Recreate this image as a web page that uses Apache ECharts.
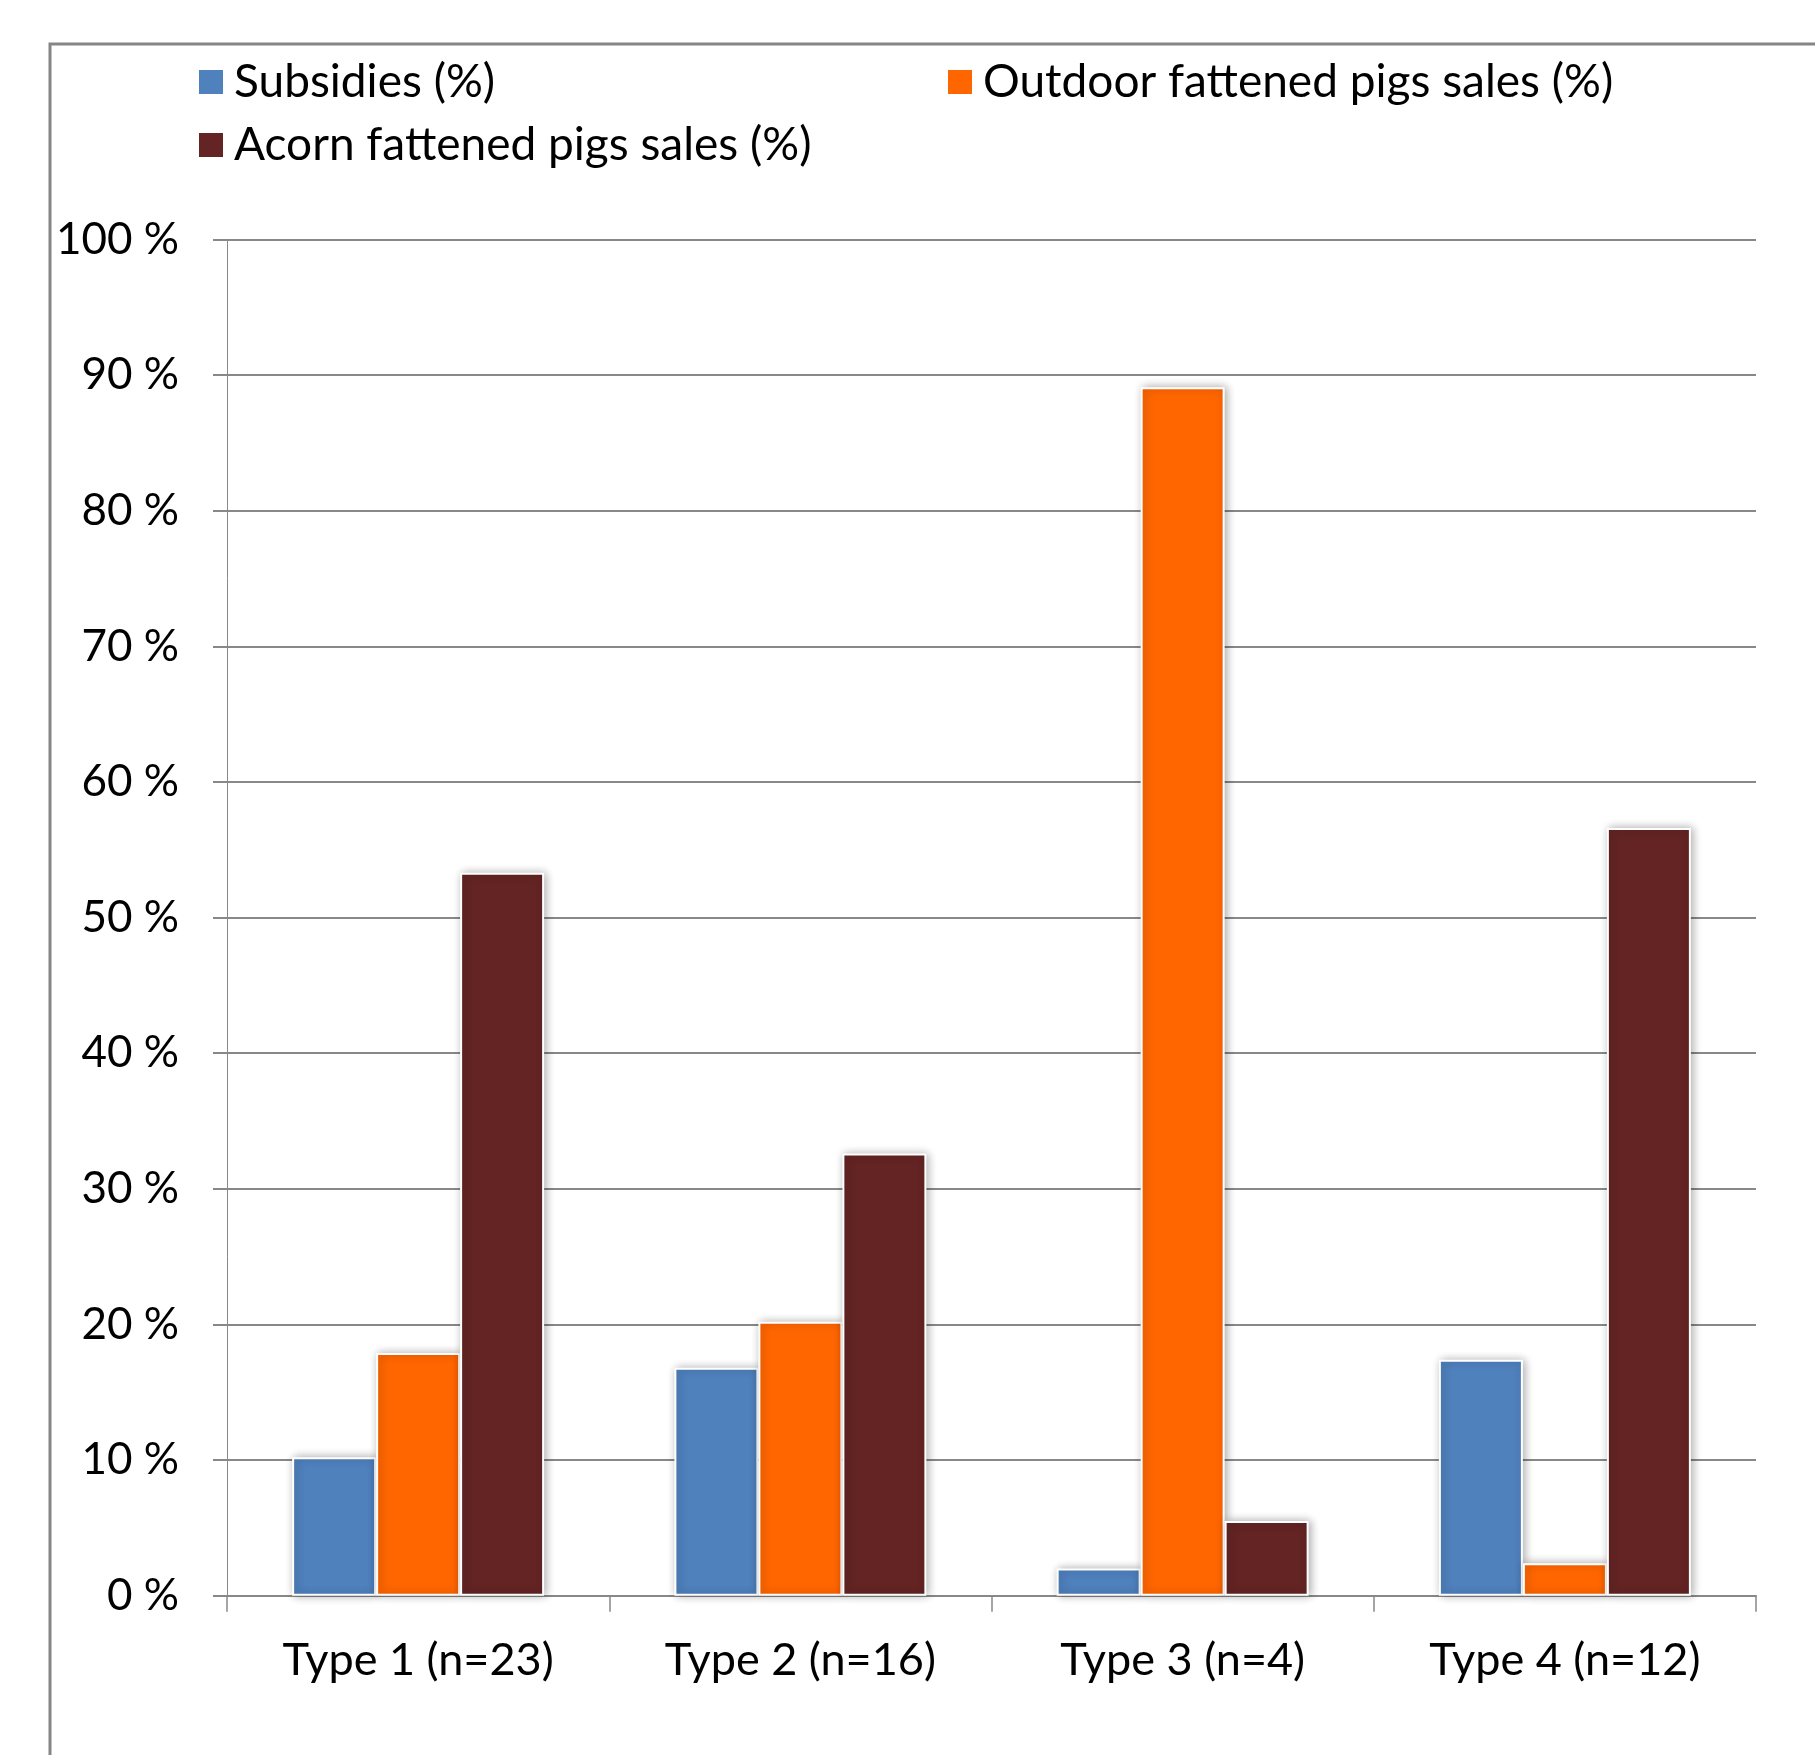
<!DOCTYPE html>
<html>
<head>
<meta charset="utf-8">
<script src="https://cdn.jsdelivr.net/npm/echarts@6/dist/echarts.min.js"></script>
<style>
  html, body { margin: 0; padding: 0; background: #fff; }
  #chart { width: 1815px; height: 1755px; }
</style>
</head>
<body>
<div id="chart"></div>
<script>
// Farm types and the share of income from each source
const categories = ['Type 1 (n=23)', 'Type 2 (n=16)', 'Type 3 (n=4)', 'Type 4 (n=12)'];
const subsidies = [10.2, 16.8, 2.0, 17.4];
const outdoorSales = [17.9, 20.2, 89.1, 2.4];
const acornSales = [53.3, 32.6, 5.5, 56.6];
const seriesNames = ['Subsidies (%)', 'Outdoor fattened pigs sales (%)', 'Acorn fattened pigs sales (%)'];
const seriesColors = ['#4F81BD', '#FF6600', '#632423'];

const FONT = 'Lato';
const GRID_GRAY = '#888888';

const chart = echarts.init(document.getElementById('chart'), null, { renderer: 'canvas' });

function barSeries(name, data, color) {
  return {
    name: name,
    type: 'bar',
    data: data,
    barWidth: 84,
    barGap: '0%',
    itemStyle: {
      color: color,
      borderColor: '#ffffff',
      borderWidth: 2,
      shadowBlur: 9,
      shadowOffsetX: 2,
      shadowOffsetY: 0,
      shadowColor: 'rgba(0,0,0,0.32)'
    }
  };
}

function legendItem(name, left, top) {
  return {
    data: [name],
    left: left,
    top: top,
    icon: 'rect',
    itemWidth: 26,
    itemHeight: 26,
    padding: 0,
    selectedMode: false,
    textStyle: {
      fontFamily: FONT,
      fontSize: 46,
      color: '#000',
      lineHeight: 46,
      padding: [0, 0, 0, 5]
    }
  };
}

const option = {
  backgroundColor: '#ffffff',
  animation: false,
  graphic: [{
    type: 'rect',
    shape: { x: 50, y: 44, width: 2000, height: 2000 },
    style: { fill: 'none', stroke: '#868686', lineWidth: 3 },
    silent: true
  }],
  legend: [
    legendItem(seriesNames[0], 197, 59),
    legendItem(seriesNames[1], 946, 59),
    legendItem(seriesNames[2], 197, 122)
  ],
  grid: { left: 227, right: 59, top: 239.5, bottom: 159.3, containLabel: false },
  xAxis: {
    type: 'category',
    data: categories,
    boundaryGap: true,
    axisLine: { show: true, lineStyle: { color: GRID_GRAY, width: 2 } },
    axisTick: { show: true, length: 16, alignWithLabel: false, lineStyle: { color: GRID_GRAY, width: 1.5 } },
    axisLabel: { margin: 42, fontFamily: FONT, fontSize: 45, color: '#000' },
    splitLine: { show: false }
  },
  yAxis: {
    type: 'value',
    min: 0,
    max: 100,
    interval: 10,
    axisLine: { show: true, lineStyle: { color: GRID_GRAY, width: 1 } },
    axisTick: { show: true, length: 14, lineStyle: { color: GRID_GRAY, width: 2 } },
    axisLabel: {
      margin: 48,
      fontFamily: FONT,
      fontSize: 44,
      color: '#000',
      formatter: v => v + ' %'
    },
    splitLine: { show: true, lineStyle: { color: GRID_GRAY, width: 2 } }
  },
  series: [
    barSeries(seriesNames[0], subsidies, seriesColors[0]),
    barSeries(seriesNames[1], outdoorSales, seriesColors[1]),
    barSeries(seriesNames[2], acornSales, seriesColors[2])
  ]
};

chart.setOption(option);
</script>
</body>
</html>
